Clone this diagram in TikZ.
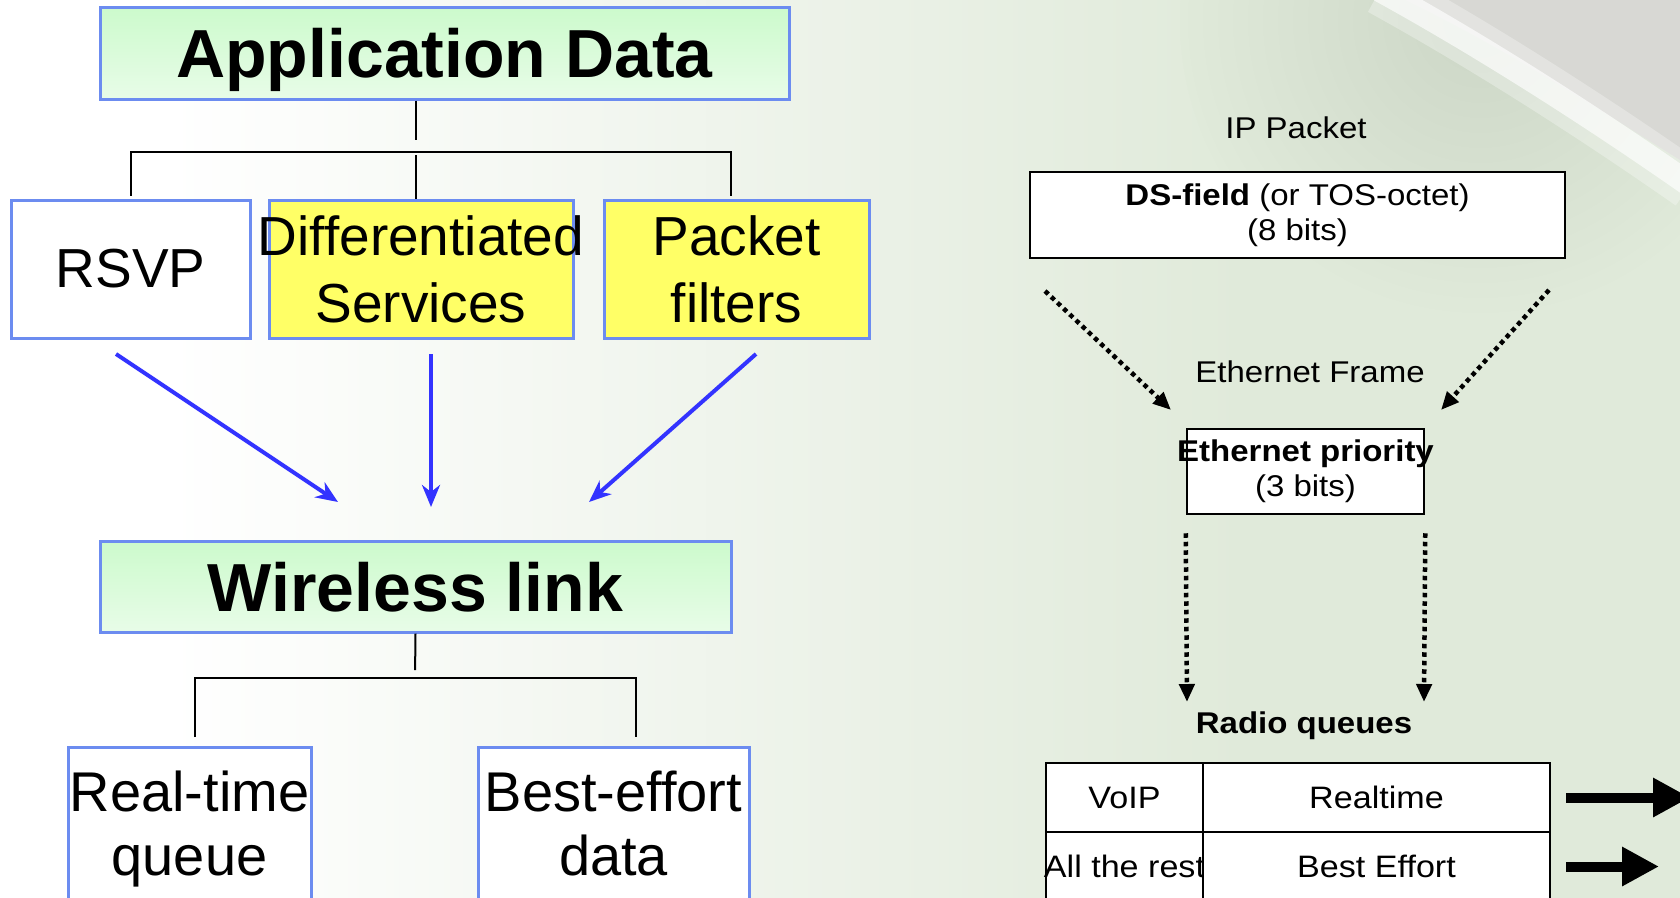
\documentclass[tikz,border=0pt]{standalone}
\usepackage{fontspec}
\setmainfont{Liberation Sans}
\newfontfamily\widefont[FakeStretch=1.1]{Liberation Sans}
\usetikzlibrary{positioning}
\usetikzlibrary{arrows.meta}

\definecolor{boxblue}{RGB}{108,140,240}
\definecolor{greentop}{RGB}{204,250,204}
\definecolor{greenbot}{RGB}{232,252,232}
\definecolor{boxyellow}{RGB}{255,255,102}
\definecolor{arrowblue}{RGB}{51,51,255}
\definecolor{bggreen}{RGB}{224,234,218}
\definecolor{glaregray}{RGB}{216,216,212}
\definecolor{glaregreen}{RGB}{204,214,198}

\pgfdeclarehorizontalshading{bgshade}{100bp}{color(0bp)=(white); color(30bp)=(white); color(62bp)=(bggreen); color(100bp)=(bggreen)}

\tikzset{
  title/.style={draw=boxblue, line width=3pt, top color=greentop, bottom color=greenbot,
    inner sep=0pt, text depth=0pt, font=\bfseries\fontsize{68}{80}\selectfont},
  child/.style={draw=boxblue, line width=3pt, fill=white, inner sep=0pt,
    align=center, font=\fontsize{55}{67}\selectfont},
  conn/.style={line width=2pt, black},
  bluearrow/.style={arrowblue, line width=4pt, -{Stealth[length=22pt,width=18pt,inset=7pt]}},
  plain/.style={inner sep=0pt, text depth=0pt, font=\widefont\fontsize{30}{35}\selectfont},
  field/.style={draw=black, line width=2.5pt, fill=white, inner sep=0pt,
    align=center, font=\widefont\fontsize{30}{35}\selectfont},
  cell/.style={draw=black, line width=2.5pt, fill=white, inner sep=0pt, outer sep=0pt,
    minimum height=69pt, text depth=0pt, font=\widefont\fontsize{31}{36}\selectfont},
  dotarrow/.style={line width=4.5pt, dash pattern=on 4.5pt off 4pt, -{Triangle[length=18pt,width=15pt]}},
  blockarrow/.style={line width=10pt, -{Triangle[length=37pt,width=37pt]}}
}

\begin{document}
\begin{tikzpicture}[x=1pt,y=-1pt]
  \useasboundingbox (0,0) rectangle (1680,897);
  \clip (0,0) rectangle (1680,897);

  % background and the glare in the corner
  \shade[shading=bgshade] (0,0) rectangle (1680,897);
  \shade[inner color=glaregreen, outer color=bggreen] (1480,20) circle (300);
  \fill[glaregray] (1405,0) .. controls (1500,45) and (1600,110) .. (1680,160) -- (1680,0) -- cycle;
  \draw[white, line width=50pt, opacity=0.3] (1380,-10) .. controls (1480,45) and (1590,115) .. (1690,185);
  \draw[white, line width=24pt, opacity=0.65] (1380,-10) .. controls (1480,45) and (1590,115) .. (1690,185);

  % upper tree
  \node[title, minimum width=689pt, minimum height=92pt] (appdata) at (444.5,53) {Application Data};
  \node[child, minimum width=239pt, minimum height=138pt] (rsvp) at (130.5,269) {RSVP};
  \node[child, fill=boxyellow, minimum width=304pt, minimum height=138pt] (diffserv) at (421,269)
    {\makebox[0pt]{Differentiated}\\Services};
  \node[child, fill=boxyellow, minimum width=265pt, minimum height=138pt] (pktfilt) at (736.5,269)
    {Packet\\filters};

  \coordinate (busA) at (416,152);
  \draw[conn, shorten >=12pt] (busA |- appdata.south) -- (busA);
  \draw[conn, shorten <=3pt, shorten >=3pt] (rsvp.north) -- (rsvp.north |- busA)
    -- ([xshift=-6pt]pktfilt.north |- busA) -- ([xshift=-6pt]pktfilt.north);
  \draw[conn, shorten >=3pt] (diffserv.north -| busA) -- (busA);

  % the three feeds into the link
  \coordinate (feedL) at (116,354);
  \coordinate (feedM) at (431,354);
  \coordinate (feedR) at (756,354);
  \coordinate (intoL) at (338,502);
  \coordinate (intoM) at (431,507);
  \coordinate (intoR) at (589,502);
  \draw[bluearrow] (feedL) -- (intoL);
  \draw[bluearrow] (feedM) -- (intoM);
  \draw[bluearrow] (feedR) -- (intoR);

  % lower tree
  \node[title, minimum width=631pt, minimum height=91pt] (wireless) at (415.5,586.5) {Wireless link};
  \node[child, minimum width=243pt, minimum height=220pt, anchor=north] (rtqueue) at (189.5,746) {};
  \node[child, minimum width=271pt, minimum height=220pt, anchor=north] (besteff) at (613.5,746) {};
  \node[inner sep=0pt, align=center, font=\fontsize{56}{64}\selectfont, below=25pt of rtqueue.north]
    (rtqueuetxt) {Real-time\\queue};
  \node[inner sep=0pt, align=center, font=\fontsize{56}{64}\selectfont, below=25pt of besteff.north]
    (bestefftxt) {Best-effort\\data};

  \coordinate (busB) at (415,678);
  \draw[conn, shorten >=8pt] (wireless.south) -- (busB);
  \draw[conn, shorten <=9pt, shorten >=9pt] ([xshift=5.5pt]rtqueue.north) -- ([xshift=5.5pt]rtqueue.north |- busB)
    -- ([xshift=22.5pt]besteff.north |- busB) -- ([xshift=22.5pt]besteff.north);

  % header fields
  \node[plain] (ippacket) at (1296,128) {IP Packet};
  \node[field, minimum width=535pt, minimum height=86pt] (dsfield) at (1297.5,215)
    {\textbf{DS-field} (or TOS-octet)\\(8 bits)};
  \node[plain] (ethframe) at (1310,372) {Ethernet Frame};
  \node[field, minimum width=237pt, minimum height=85pt] (ethprio) at (1305.5,471.5)
    {\makebox[0pt]{\textbf{Ethernet priority}}\\(3 bits)};

  \coordinate (mapL) at (1045,291);
  \coordinate (mapR) at (1549,290);
  \coordinate (toprioL) at (1171,410);
  \coordinate (toprioR) at (1441,410);
  \draw[dotarrow] (mapL) -- (toprioL);
  \draw[dotarrow] (mapR) -- (toprioR);

  \coordinate (prioL) at ([yshift=-18pt]ethprio.south west);
  \coordinate (prioR) at ([yshift=-18pt]ethprio.south east);
  \coordinate (queueL) at (1187,702);
  \coordinate (queueR) at (1424,702);
  \draw[dotarrow] (prioL) -- (queueL);
  \draw[dotarrow] (prioR) -- (queueR);

  % radio queues
  \node[plain, font=\widefont\bfseries\fontsize{30}{35}\selectfont] (radio) at (1304,723) {Radio queues};
  \node[cell, minimum width=157pt] (voip) at (1124.5,797.5) {VoIP};
  \node[cell, minimum width=347pt, right=0pt of voip] (realtime) {Realtime};
  \node[cell, minimum width=157pt, below=0pt of voip] (allrest) {\makebox[0pt]{All the rest}};
  \node[cell, minimum width=347pt, right=0pt of allrest] (besteffort) {Best Effort};

  \coordinate (outRT) at ([xshift=16pt]realtime.east);
  \coordinate (outBE) at ([xshift=16pt]besteffort.east);
  \coordinate (endRT) at (1690,797.5);
  \coordinate (endBE) at (1659,866.5);
  \draw[blockarrow] (outRT) -- (endRT);
  \draw[blockarrow] (outBE) -- (endBE);
\end{tikzpicture}
\end{document}
